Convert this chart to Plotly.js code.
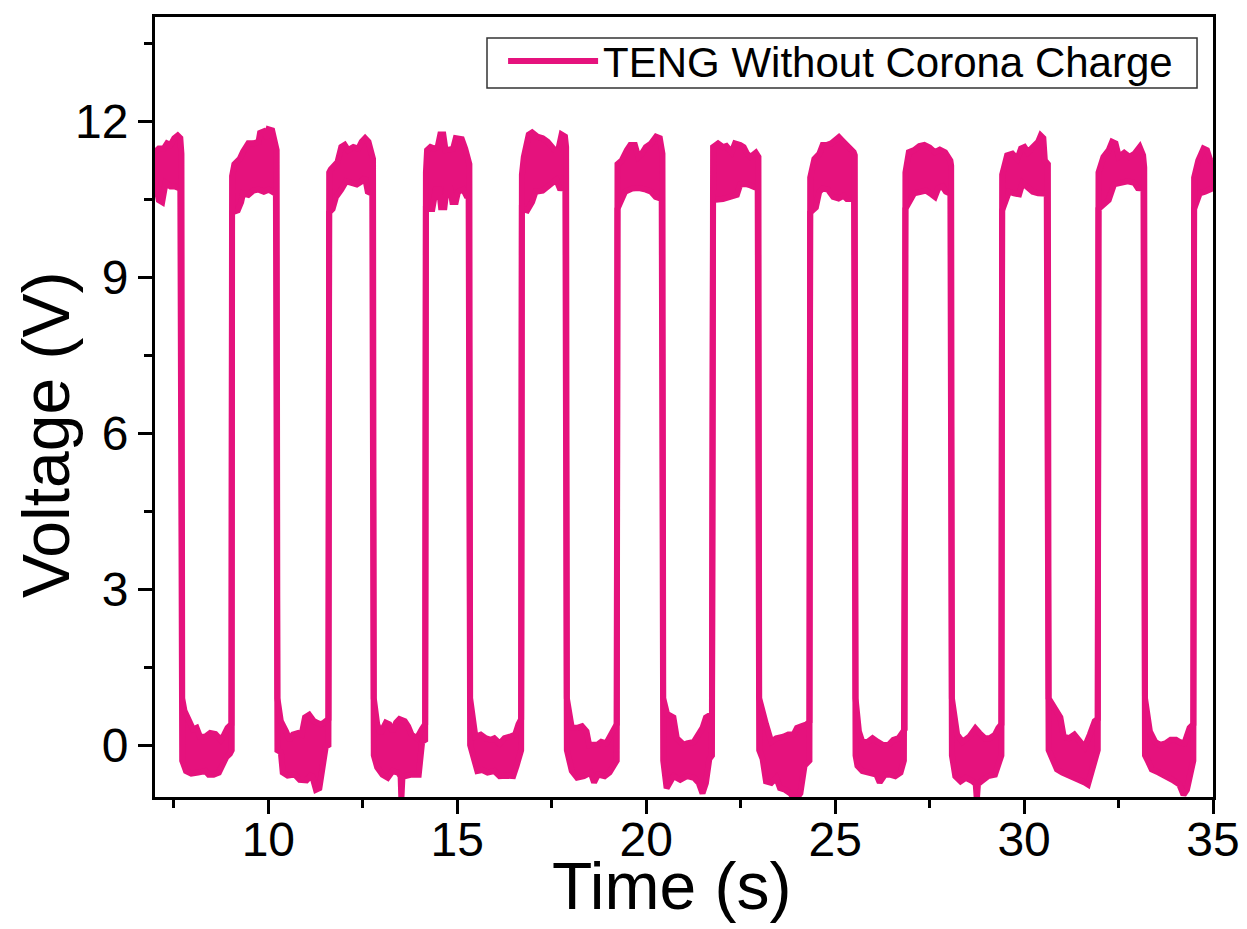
<!DOCTYPE html>
<html>
<head>
<meta charset="utf-8">
<script src="https://cdn.plot.ly/plotly-3.0.1.min.js"></script>
<style>html,body{margin:0;padding:0;background:#fff;}#chart{width:1247px;height:929px;}</style>
</head>
<body>
<div id="chart"></div>
<script>
// Upper envelope of the noisy square-wave voltage trace: [time (s), voltage (V)]
const upperEnvelope = [
 [7.00,11.40],[7.10,11.47],[7.23,11.47],[7.32,11.57],[7.41,11.54],[7.51,11.67],[7.60,11.72],[7.67,11.67],[7.70,11.37],
 [7.72,0.90],[7.78,0.66],[7.92,0.43],[8.01,0.30],[8.10,0.33],[8.19,0.16],[8.33,0.16],[8.46,0.23],[8.60,0.21],[8.74,0.10],[8.83,0.20],[8.92,0.33],[9.02,0.40],
 [9.04,10.94],[9.10,11.17],[9.24,11.27],[9.33,11.41],[9.47,11.57],[9.60,11.57],[9.74,11.60],[9.78,11.77],[9.88,11.80],[9.97,11.67],[10.01,11.84],[10.10,11.82],[10.19,11.60],[10.22,11.44],
 [10.24,0.90],[10.33,0.46],[10.47,0.26],[10.56,0.10],[10.65,0.20],[10.79,0.23],[10.88,0.20],[10.97,0.53],[11.08,0.58],[11.20,0.46],[11.29,0.43],[11.38,0.40],[11.47,0.43],[11.59,0.50],
 [11.61,11.01],[11.65,11.07],[11.83,11.21],[11.93,11.50],[12.02,11.54],[12.11,11.44],[12.25,11.50],[12.38,11.47],[12.47,11.60],[12.56,11.67],[12.65,11.60],[12.73,11.34],[12.77,11.27],
 [12.79,0.90],[12.88,0.40],[12.97,0.23],[13.11,0.43],[13.20,0.40],[13.29,0.26],[13.38,0.43],[13.47,0.50],[13.61,0.46],[13.70,0.36],[13.79,0.20],[13.93,0.13],[14.06,0.30],[14.15,0.40],
 [14.17,11.01],[14.20,11.44],[14.29,11.50],[14.39,11.47],[14.48,11.50],[14.55,11.74],[14.63,11.74],[14.69,11.44],[14.80,11.45],[14.89,11.47],[14.96,11.67],[15.12,11.65],[15.21,11.47],[15.30,11.27],[15.32,11.17],
 [15.34,0.90],[15.43,0.53],[15.48,0.16],[15.62,0.20],[15.75,0.13],[15.89,0.10],[15.98,0.13],[16.12,0.03],[16.25,0.13],[16.39,0.16],[16.53,0.20],[16.62,0.40],[16.69,0.50],
 [16.71,10.97],[16.76,11.31],[16.89,11.74],[16.98,11.78],[17.12,11.70],[17.26,11.67],[17.39,11.60],[17.48,11.50],[17.58,11.44],[17.67,11.44],[17.76,11.74],[17.85,11.70],[17.88,11.50],
 [17.90,0.90],[17.94,0.66],[18.03,0.33],[18.17,0.33],[18.30,0.36],[18.42,0.26],[18.49,0.00],[18.72,0.01],[18.81,0.06],[18.94,0.03],[19.06,0.20],[19.15,0.30],[19.22,0.40],
 [19.24,11.17],[19.35,11.24],[19.49,11.44],[19.58,11.54],[19.70,11.54],[19.79,11.31],[19.88,11.37],[19.99,11.50],[20.13,11.57],[20.26,11.70],[20.36,11.67],[20.43,11.37],
 [20.45,0.90],[20.55,0.60],[20.72,0.53],[20.81,0.13],[21.00,0.00],[21.08,0.03],[21.26,0.06],[21.39,0.23],[21.49,0.33],[21.58,0.53],[21.74,0.60],
 [21.77,11.50],[21.90,11.57],[22.03,11.50],[22.12,11.52],[22.26,11.40],[22.35,11.57],[22.49,11.54],[22.58,11.50],[22.67,11.37],[22.76,11.31],[22.90,11.39],[22.97,11.31],
 [22.99,0.90],[23.08,0.60],[23.17,0.40],[23.31,0.06],[23.44,0.13],[23.63,0.16],[23.76,0.20],[23.90,0.20],[23.99,0.33],[24.10,0.36],[24.25,0.40],[24.32,0.45],
 [24.34,10.91],[24.45,11.27],[24.58,11.37],[24.67,11.54],[24.79,11.54],[24.90,11.57],[24.99,11.64],[25.10,11.69],[25.22,11.60],[25.36,11.50],[25.49,11.40],[25.52,11.34],
 [25.54,0.90],[25.63,0.26],[25.72,0.06],[25.86,0.06],[25.99,0.13],[26.13,0.06],[26.27,0.00],[26.41,0.00],[26.54,0.10],[26.68,0.13],[26.84,0.30],
 [26.86,11.01],[26.95,11.40],[27.09,11.44],[27.23,11.52],[27.36,11.54],[27.50,11.49],[27.64,11.40],[27.77,11.45],[27.91,11.40],[28.05,11.24],[28.07,11.14],
 [28.09,0.90],[28.23,0.20],[28.37,0.06],[28.55,0.16],[28.71,0.32],[28.82,0.23],[28.96,0.13],[29.09,0.13],[29.23,0.20],[29.32,0.33],[29.40,0.40],
 [29.42,10.97],[29.55,11.34],[29.69,11.37],[29.82,11.27],[29.92,11.47],[30.01,11.50],[30.10,11.40],[30.23,11.50],[30.37,11.60],[30.44,11.72],[30.51,11.67],[30.55,11.24],[30.63,11.17],
 [30.65,0.90],[30.83,0.66],[30.96,0.53],[31.05,0.16],[31.19,0.13],[31.33,0.20],[31.46,0.06],[31.60,-0.04],[31.74,0.20],[31.87,0.46],[31.95,0.50],
 [31.97,11.01],[32.10,11.31],[32.24,11.44],[32.33,11.60],[32.42,11.57],[32.51,11.31],[32.65,11.39],[32.79,11.31],[32.92,11.37],[33.06,11.50],[33.15,11.34],[33.18,11.11],
 [33.20,0.90],[33.33,0.26],[33.47,0.06],[33.60,0.00],[33.74,0.03],[33.88,0.10],[34.02,0.10],[34.11,0.06],[34.24,0.03],[34.38,0.33],[34.48,0.40],
 [34.50,10.91],[34.61,11.24],[34.75,11.47],[34.84,11.44],[34.93,11.24],[35.00,11.21]
];

// Lower envelope of the same trace: [time (s), voltage (V)]
const lowerEnvelope = [
 [7.00,10.84],[7.10,10.48],[7.19,10.44],[7.28,10.81],[7.41,10.74],[7.52,10.74],[7.67,10.70],
 [7.72,-0.30],[7.82,-0.50],[7.96,-0.55],[8.14,-0.53],[8.33,-0.50],[8.42,-0.57],[8.55,-0.57],[8.69,-0.53],[8.78,-0.37],[8.89,-0.23],[8.98,-0.17],[9.03,-0.10],
 [9.04,10.24],[9.19,10.28],[9.28,10.44],[9.33,10.61],[9.47,10.58],[9.60,10.66],[9.74,10.68],[9.88,10.64],[10.01,10.68],[10.10,10.64],[10.20,10.60],
 [10.24,-0.10],[10.33,-0.14],[10.38,-0.53],[10.51,-0.59],[10.70,-0.57],[10.83,-0.67],[11.01,-0.68],[11.15,-0.57],[11.26,-0.86],[11.35,-0.83],[11.42,-0.50],[11.52,-0.03],[11.59,0.00],
 [11.61,10.24],[11.70,10.31],[11.79,10.54],[11.93,10.68],[12.06,10.84],[12.20,10.81],[12.34,10.78],[12.47,10.84],[12.56,10.91],[12.63,10.64],[12.75,10.60],
 [12.79,-0.20],[12.88,-0.43],[13.02,-0.57],[13.16,-0.63],[13.29,-0.50],[13.43,-0.53],[13.50,-0.60],[13.52,-1.05],[13.55,-0.60],[13.61,-0.60],[13.79,-0.57],[13.98,-0.57],[14.07,0.06],[14.15,0.10],
 [14.17,10.31],[14.34,10.31],[14.43,10.68],[14.52,10.68],[14.57,10.34],[14.66,10.34],[14.72,10.71],[14.81,10.71],[14.87,10.44],[14.96,10.44],[15.02,10.64],[15.16,10.68],[15.23,10.58],[15.30,10.60],
 [15.34,0.00],[15.43,-0.27],[15.53,-0.50],[15.66,-0.48],[15.80,-0.53],[15.98,-0.50],[16.12,-0.60],[16.30,-0.59],[16.48,-0.60],[16.57,-0.40],[16.66,-0.14],[16.69,-0.10],
 [16.71,10.31],[16.85,10.28],[16.98,10.44],[17.07,10.64],[17.26,10.66],[17.44,10.78],[17.53,10.84],[17.62,10.87],[17.71,10.71],[17.86,10.70],
 [17.90,-0.10],[17.94,-0.27],[18.03,-0.50],[18.17,-0.63],[18.35,-0.60],[18.53,-0.53],[18.62,-0.72],[18.72,-0.57],[18.90,-0.60],[19.03,-0.53],[19.15,-0.40],[19.22,-0.30],
 [19.24,10.31],[19.35,10.48],[19.44,10.64],[19.63,10.70],[19.81,10.71],[19.99,10.68],[20.13,10.64],[20.25,10.54],[20.41,10.50],
 [20.45,-0.30],[20.54,-0.83],[20.72,-0.60],[20.90,-0.67],[21.08,-0.60],[21.26,-0.63],[21.39,-0.73],[21.49,-0.93],[21.58,-0.73],[21.67,-0.27],[21.74,-0.20],
 [21.77,10.48],[22.03,10.50],[22.26,10.54],[22.40,10.58],[22.49,10.78],[22.62,10.79],[22.76,10.76],[22.82,10.74],[22.95,10.70],
 [22.99,-0.10],[23.08,-0.27],[23.17,-0.70],[23.31,-0.73],[23.44,-0.63],[23.54,-0.83],[23.67,-0.86],[23.81,-0.93],[23.95,-1.05],[24.08,-0.93],[24.19,-0.40],[24.32,-0.30],
 [24.34,10.24],[24.49,10.34],[24.58,10.64],[24.67,10.70],[24.81,10.68],[24.95,10.54],[25.09,10.51],[25.22,10.56],[25.31,10.50],[25.50,10.50],
 [25.54,-0.20],[25.59,-0.40],[25.72,-0.50],[25.90,-0.53],[26.09,-0.57],[26.18,-0.72],[26.32,-0.57],[26.45,-0.57],[26.59,-0.60],[26.73,-0.53],[26.82,-0.30],
 [26.86,10.31],[27.00,10.48],[27.09,10.61],[27.27,10.64],[27.41,10.66],[27.55,10.59],[27.64,10.54],[27.73,10.71],[27.84,10.74],[27.93,10.64],[28.05,10.60],
 [28.09,-0.20],[28.18,-0.60],[28.32,-0.70],[28.46,-0.63],[28.64,-0.70],[28.72,-0.75],[28.75,-1.06],[28.78,-0.75],[28.87,-0.70],[29.05,-0.60],[29.23,-0.57],[29.35,-0.27],[29.40,-0.20],
 [29.42,10.28],[29.60,10.64],[29.73,10.61],[29.87,10.59],[29.96,10.81],[30.10,10.71],[30.23,10.64],[30.37,10.61],[30.60,10.60],
 [30.65,-0.10],[30.74,-0.23],[30.87,-0.47],[31.01,-0.53],[31.14,-0.57],[31.28,-0.60],[31.46,-0.67],[31.60,-0.72],[31.69,-0.76],[31.78,-0.53],[31.90,-0.20],[31.95,-0.10],
 [31.97,10.31],[32.15,10.44],[32.24,10.48],[32.38,10.78],[32.56,10.81],[32.74,10.84],[32.92,10.81],[33.01,10.71],[33.16,10.70],
 [33.20,-0.20],[33.29,-0.33],[33.38,-0.47],[33.56,-0.53],[33.74,-0.59],[33.92,-0.67],[34.11,-0.76],[34.22,-0.96],[34.31,-0.86],[34.43,-0.53],[34.48,-0.30],
 [34.50,10.31],[34.65,10.61],[34.79,10.64],[34.93,10.68],[35.00,10.71]
];

const seriesName = 'TENG Without Corona Charge';
const xTickVals = [10, 15, 20, 25, 30, 35];
const yTickVals = [0, 3, 6, 9, 12];
const lineColor = '#E5127D';

const traces = [
  {
    x: lowerEnvelope.map(p => p[0]),
    y: lowerEnvelope.map(p => p[1]),
    type: 'scatter', mode: 'lines',
    name: seriesName,
    line: {color: lineColor, width: 6},
    hoverinfo: 'x+y'
  },
  {
    x: upperEnvelope.map(p => p[0]),
    y: upperEnvelope.map(p => p[1]),
    type: 'scatter', mode: 'lines',
    name: seriesName,
    showlegend: false,
    fill: 'tonexty',
    fillcolor: lineColor,
    line: {color: lineColor, width: 6},
    hoverinfo: 'x+y'
  }
];

const FONT = 'Liberation Sans, Arial, sans-serif';
const layout = {
  width: 1247, height: 929,
  paper_bgcolor: '#ffffff', plot_bgcolor: '#ffffff',
  margin: {l: 155, r: 34, t: 17, b: 132},
  font: {family: FONT, color: '#000'},
  showlegend: true,
  legend: {
    x: 0.329, y: 0.987, xanchor: 'left', yanchor: 'top',
    bgcolor: 'rgba(0,0,0,0)', borderwidth: 0,
    font: {family: FONT, size: 42, color: '#000'},
    itemwidth: 90
  },
  shapes: [
    {type: 'rect', xref: 'paper', yref: 'paper', x0: 0.3138, x1: 0.9849, y0: 0.909, y1: 0.973,
     line: {color: '#333', width: 1.5}, fillcolor: 'rgba(0,0,0,0)', layer: 'above'}
  ],
  xaxis: {
    range: [7, 35],
    tickmode: 'array', tickvals: xTickVals, ticktext: xTickVals.map(String),
    ticks: 'outside', ticklen: 14, tickwidth: 3, tickcolor: '#000',
    ticklabelstandoff: -16,
    minor: {dtick: 2.5, tick0: 0, ticks: 'outside', ticklen: 8, tickwidth: 3, tickcolor: '#000'},
    showline: true, linecolor: '#000', linewidth: 3, mirror: true,
    showgrid: false, zeroline: false,
    tickfont: {family: FONT, size: 48, color: '#000'}
  },
  yaxis: {
    range: [-1, 14],
    tickmode: 'array', tickvals: yTickVals, ticktext: yTickVals.map(String),
    ticks: 'outside', ticklen: 14, tickwidth: 3, tickcolor: '#000',
    minor: {dtick: 1.5, tick0: 0, ticks: 'outside', ticklen: 8, tickwidth: 3, tickcolor: '#000'},
    showline: true, linecolor: '#000', linewidth: 3, mirror: true,
    showgrid: false, zeroline: false,
    tickfont: {family: FONT, size: 48, color: '#000'}
  },
  annotations: [
    {text: 'Time (s)', xref: 'paper', yref: 'paper', x: 0.4887, y: -0.114,
     xanchor: 'center', yanchor: 'middle', showarrow: false,
     font: {family: FONT, size: 66, color: '#000'}},
    {text: 'Voltage (V)', xref: 'paper', yref: 'paper', x: -0.103, y: 0.464,
     xanchor: 'center', yanchor: 'middle', textangle: -90, showarrow: false,
     font: {family: FONT, size: 66, color: '#000'}}
  ]
};

Plotly.newPlot('chart', traces, layout, {displayModeBar: false, staticPlot: true});
</script>
</body>
</html>
